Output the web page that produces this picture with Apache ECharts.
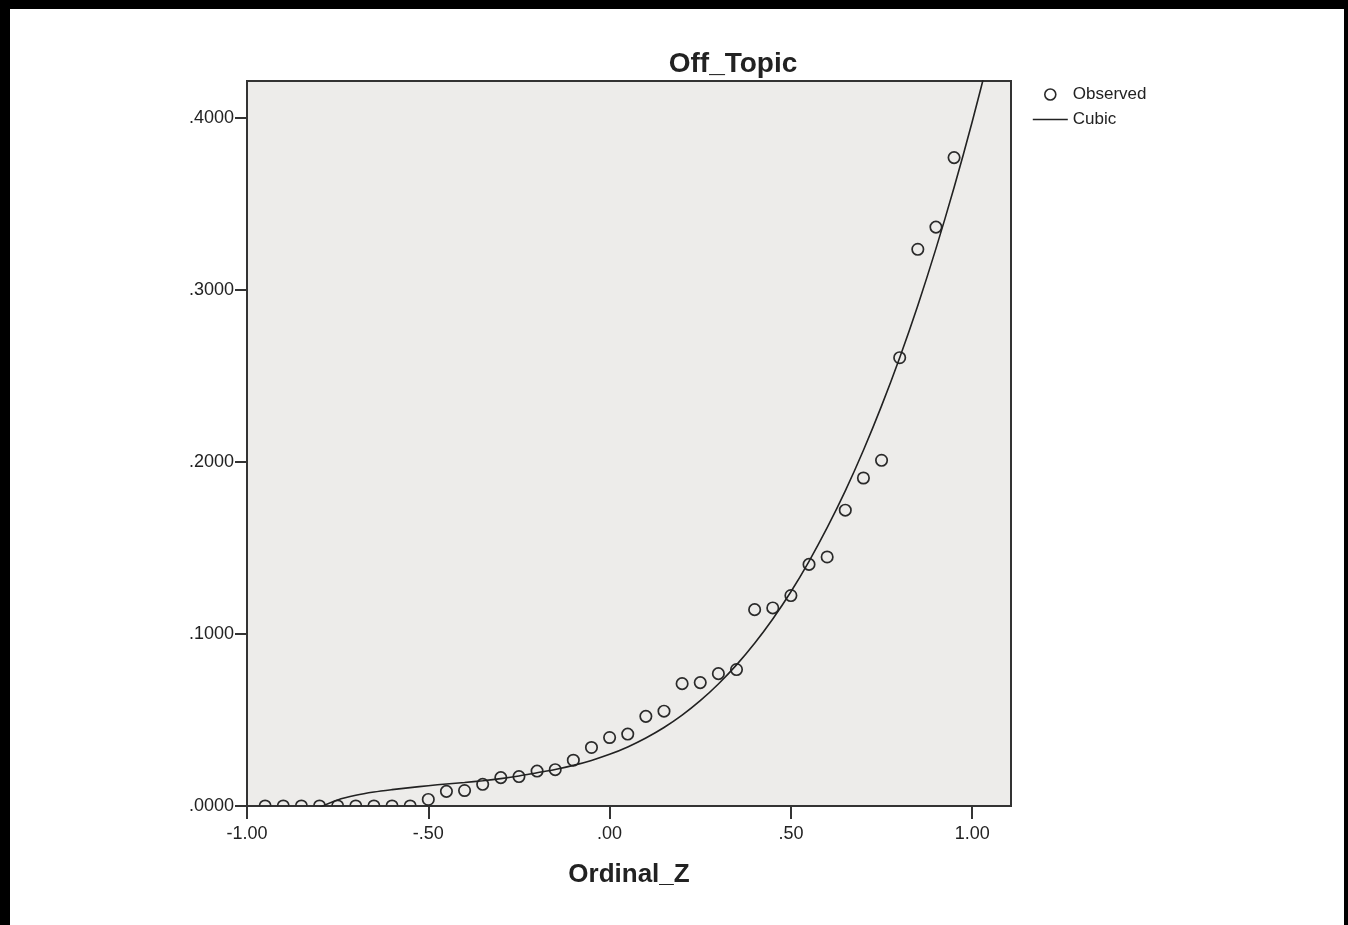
<!DOCTYPE html>
<html><head><meta charset="utf-8">
<script src="https://cdn.jsdelivr.net/npm/echarts@6/dist/echarts.min.js"></script>
<style>html,body{margin:0;padding:0;background:#fff}#c{width:1348px;height:925px}</style>
</head><body><div id="c"></div>
<script>
// Observed points (Ordinal_Z, Off_Topic)
const obsX = [-0.95,-0.90,-0.85,-0.80,-0.75,-0.70,-0.65,-0.60,-0.55,-0.50,-0.45,-0.40,-0.35,-0.30,-0.25,-0.20,-0.15,-0.10,-0.05,0.00,0.05,0.10,0.15,0.20,0.25,0.30,0.35,0.40,0.45,0.50,0.55,0.60,0.65,0.70,0.75,0.80,0.85,0.90,0.95];
const obsY = [0,0,0,0,0,0,0,0,0,0.0038,0.0085,0.0090,0.0126,0.0165,0.0171,0.0203,0.0211,0.0266,0.0340,0.0398,0.0418,0.0521,0.0551,0.0711,0.0717,0.0769,0.0793,0.1141,0.1151,0.1223,0.1404,0.1447,0.1719,0.1906,0.2009,0.2605,0.3235,0.3364,0.3768];
// Cubic fit curve
const fitX = [-0.85,-0.80,-0.75,-0.70,-0.65,-0.60,-0.55,-0.50,-0.45,-0.40,-0.35,-0.30,-0.25,-0.20,-0.15,-0.10,-0.05,0.00,0.05,0.10,0.15,0.20,0.25,0.30,0.35,0.40,0.45,0.50,0.55,0.60,0.65,0.70,0.75,0.80,0.85,0.90,0.95,1.00,1.05];
const fitY = [-0.0060,-0.0008,0.0035,0.0062,0.0081,0.0095,0.0107,0.0118,0.0128,0.0137,0.0147,0.0159,0.0174,0.0193,0.0212,0.0236,0.0265,0.0300,0.0343,0.0395,0.0456,0.0528,0.0612,0.0709,0.0820,0.0946,0.1087,0.1245,0.1422,0.1617,0.1831,0.2067,0.2325,0.2605,0.2909,0.3239,0.3594,0.3976,0.4386];
// Tick labels
const xTickValues = [-1, -0.5, 0, 0.5, 1];
const xTickLabels = ['-1.00', '-.50', '.00', '.50', '1.00'];
const yTickValues = [0, 0.1, 0.2, 0.3, 0.4];
const yTickLabels = ['.0000', '.1000', '.2000', '.3000', '.4000'];

const FONT = '"Liberation Sans", Arial, Helvetica, sans-serif';
function lab(vals, labs) {
  return function (v) {
    for (let i = 0; i < vals.length; i++) if (Math.abs(vals[i] - v) < 1e-9) return labs[i];
    return '';
  };
}
const chart = echarts.init(document.getElementById('c'), null, {renderer: 'canvas'});
const option = {
  backgroundColor: '#fff',
  animation: false,
  title: {
    text: 'Off_Topic', left: 728, top: 45, textAlign: 'center',
    textStyle: {fontFamily: FONT, fontSize: 28, fontWeight: 'bold', color: '#222'}
  },
  legend: {
    orient: 'vertical', left: 1032, top: 86, padding: 0, itemWidth: 35, itemHeight: 11, itemGap: 8,
    selectedMode: false,
    textStyle: {fontFamily: FONT, fontSize: 17, color: '#222'},
    data: [
      {name: 'Observed', icon: 'circle', itemStyle: {color: 'rgba(0,0,0,0)', borderColor: '#2a2a2a', borderWidth: 1.6}},
      {name: 'Cubic', itemStyle: {opacity: 0}, lineStyle: {color: '#222', width: 1.6}}
    ]
  },
  grid: {
    left: 247, top: 81, right: 337, bottom: 119, show: true,
    backgroundColor: '#EDECEA', borderColor: '#333', borderWidth: 2
  },
  xAxis: {
    type: 'value', min: -1, max: 1.107,
    name: 'Ordinal_Z', nameLocation: 'middle', nameGap: 56,
    nameTextStyle: {fontFamily: FONT, fontSize: 26, fontWeight: 'bold', color: '#222'},
    splitLine: {show: false},
    axisLine: {show: true, onZero: false, lineStyle: {color: '#333', width: 2}},
    axisTick: {show: true, length: 13, customValues: xTickValues, lineStyle: {color: '#333', width: 2}},
    axisLabel: {customValues: xTickValues, formatter: lab(xTickValues, xTickLabels), margin: 19,
      fontFamily: FONT, fontSize: 18, color: '#222'}
  },
  yAxis: {
    type: 'value', min: 0, max: 0.4213,
    splitLine: {show: false},
    axisLine: {show: true, onZero: false, lineStyle: {color: '#333', width: 2}},
    axisTick: {show: true, length: 12, customValues: yTickValues, lineStyle: {color: '#333', width: 2}},
    axisLabel: {customValues: yTickValues, formatter: lab(yTickValues, yTickLabels), margin: 13,
      verticalAlign: 'middle', padding: [6, 0, 0, 0], fontFamily: FONT, fontSize: 18, color: '#222'}
  },
  series: [
    {
      name: 'Observed', type: 'custom', clip: true,
      data: obsX.map((x, i) => [x, obsY[i]]),
      encode: {x: 0, y: 1},
      renderItem: function (params, api) {
        const p = api.coord([api.value(0), api.value(1)]);
        return {type: 'circle', shape: {cx: p[0], cy: p[1], r: 5.7},
          style: {fill: 'none', stroke: '#2a2a2a', lineWidth: 1.7}};
      }
    },
    {
      name: 'Cubic', type: 'line', symbol: 'none', smooth: 0.3, clip: true,
      data: fitX.map((x, i) => [x, fitY[i]]),
      itemStyle: {color: '#222'},
      lineStyle: {color: '#222', width: 1.6}
    }
  ],
  graphic: [
    {type: 'rect', shape: {x: 0, y: 0, width: 10, height: 925}, style: {fill: '#000'}},
    {type: 'rect', shape: {x: 0, y: 0, width: 1348, height: 9}, style: {fill: '#000'}},
    {type: 'rect', shape: {x: 1344, y: 0, width: 4, height: 925}, style: {fill: '#000'}}
  ]
};
chart.setOption(option);
</script>
</body></html>
